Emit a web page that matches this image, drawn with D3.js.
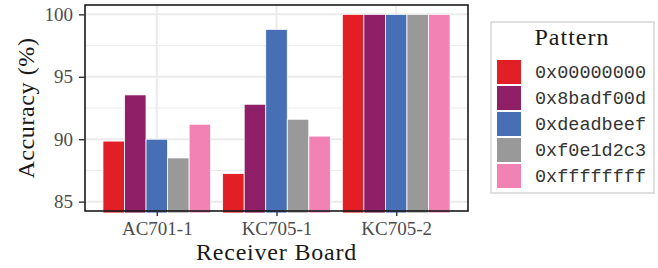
<!DOCTYPE html>
<html>
<head>
<meta charset="utf-8">
<script src="https://cdn.jsdelivr.net/npm/d3@7"></script>
<style>
  body { margin: 0; background: #fff; }
  text { font-family: "Liberation Serif", "Times New Roman", serif; }
  .mono { font-family: "Liberation Mono", "DejaVu Sans Mono", monospace; }
</style>
</head>
<body>
<div id="chart"></div>
<script>
var boards = ["AC701-1", "KC705-1", "KC705-2"];
var patterns = ["0x00000000", "0x8badf00d", "0xdeadbeef", "0xf0e1d2c3", "0xffffffff"];
var colors = ["#e21f26", "#8f1f66", "#466fb5", "#999999", "#f282b4"];
// accuracy per board, one array per pattern
var acc0000 = [89.85, 87.25, 100];
var acc8bad = [93.55, 92.8, 100];
var accdead = [90.0, 98.8, 100];
var accf0e1 = [88.5, 91.6, 100];
var accffff = [91.2, 90.25, 100];
var series = [acc0000, acc8bad, accdead, accf0e1, accffff];
var yTicks = [85, 90, 95, 100];
var yMinor = [87.5, 92.5, 97.5];

var svgWidth = 658, svgHeight = 268;
var margin = {top: 5, right: 190, bottom: 57, left: 85};
var width = svgWidth - margin.left - margin.right;
var height = svgHeight - margin.top - margin.bottom;

var svg = d3.select("#chart").append("svg")
    .attr("width", svgWidth)
    .attr("height", svgHeight);
var chart = svg.append("g")
    .attr("transform", "translate(" + margin.left + "," + margin.top + ")");

// discrete x with 0.6 expansion on each side, like ggplot
var step = width / 3.2;
var x = d3.scalePoint().domain(boards).range([0.6 * step, width - 0.6 * step]);
var xSub = d3.scaleBand().domain(d3.range(patterns.length)).range([-0.45 * step, 0.45 * step]);
var y = d3.scaleLinear().domain([84.25, 100.75]).range([height, 0]);

// grid
chart.selectAll(".minor").data(yMinor).enter().append("line")
    .attr("x1", 0).attr("x2", width)
    .attr("y1", function(d) { return y(d); }).attr("y2", function(d) { return y(d); })
    .attr("stroke", "#ebebeb").attr("stroke-width", 1);
chart.selectAll(".major").data(yTicks).enter().append("line")
    .attr("x1", 0).attr("x2", width)
    .attr("y1", function(d) { return y(d); }).attr("y2", function(d) { return y(d); })
    .attr("stroke", "#ebebeb").attr("stroke-width", 2);
chart.selectAll(".vgrid").data(boards).enter().append("line")
    .attr("x1", function(d) { return x(d); }).attr("x2", function(d) { return x(d); })
    .attr("y1", 0).attr("y2", height)
    .attr("stroke", "#ebebeb").attr("stroke-width", 2);

// bars
series.forEach(function(vals, i) {
    chart.selectAll(".bar" + i).data(vals).enter().append("rect")
        .attr("x", function(d, j) { return x(boards[j]) + xSub(i); })
        .attr("width", xSub.bandwidth())
        .attr("y", function(d) { return y(d); })
        .attr("height", function(d) { return height + 2 - y(d); })
        .attr("fill", colors[i])
        .attr("stroke", "#fff")
        .attr("stroke-width", 0.8);
});

// panel border
chart.append("rect")
    .attr("width", width).attr("height", height)
    .attr("fill", "none").attr("stroke", "#1a1a1a").attr("stroke-width", 1.6);

// axes
var leftAxis = d3.axisLeft(y).tickValues(yTicks).tickSize(6).tickPadding(6);
var gy = chart.append("g").call(leftAxis);
gy.select(".domain").remove();
gy.selectAll("line").attr("stroke", "#333").attr("stroke-width", 1.4);
gy.selectAll("text").attr("fill", "#4d4d4d").style("font-size", "19px")
    .style("font-family", "Liberation Serif, serif");

var bottomAxis = d3.axisBottom(x).tickSize(5).tickPadding(3);
var gx = chart.append("g").attr("transform", "translate(0," + height + ")").call(bottomAxis);
gx.select(".domain").remove();
gx.selectAll("line").attr("stroke", "#333").attr("stroke-width", 1.4);
gx.selectAll("text").attr("fill", "#4d4d4d").style("font-size", "19px")
    .style("font-family", "Liberation Serif, serif")
    .attr("dy", null).attr("y", 24);

// axis titles
svg.append("text")
    .attr("transform", "translate(34," + (margin.top + height / 2) + ") rotate(-90)")
    .attr("text-anchor", "middle")
    .style("font-size", "24px")
    .style("letter-spacing", "0.6px")
    .attr("fill", "#1a1a1a")
    .text("Accuracy (%)");
svg.append("text")
    .attr("x", margin.left + width / 2).attr("y", 260)
    .attr("text-anchor", "middle")
    .style("font-size", "24px")
    .style("letter-spacing", "0.8px")
    .attr("fill", "#1a1a1a")
    .text("Receiver Board");

// legend
var legend = svg.append("g").attr("transform", "translate(491,22)");
legend.append("rect")
    .attr("width", 163).attr("height", 171)
    .attr("fill", "#fff").attr("stroke", "#d9d9d9").attr("stroke-width", 1.6);
legend.append("text")
    .attr("x", 81).attr("y", 23)
    .attr("text-anchor", "middle")
    .style("font-size", "24px")
    .style("letter-spacing", "1px")
    .attr("fill", "#1a1a1a")
    .text("Pattern");
var items = legend.selectAll(".item").data(patterns).enter().append("g")
    .attr("transform", function(d, i) { return "translate(6," + (38 + i * 26) + ")"; });
items.append("rect")
    .attr("width", 24).attr("height", 24)
    .attr("fill", function(d, i) { return colors[i]; });
items.append("text")
    .attr("class", "mono")
    .attr("x", 38).attr("y", 18)
    .style("font-size", "18.5px")
    .attr("fill", "#333")
    .text(function(d) { return d; });
</script>
</body>
</html>
